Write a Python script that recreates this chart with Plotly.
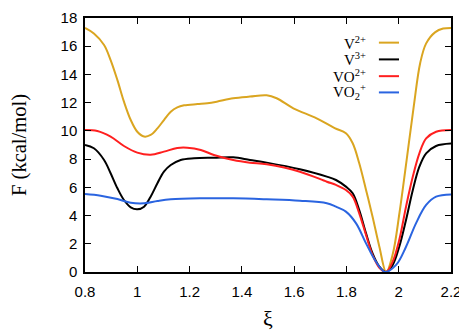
import plotly.graph_objects as go

# --- data ---
xi_v2 = [0.80, 0.834, 0.873, 0.898, 0.924, 0.949, 0.975, 1.000, 1.026, 1.051, 1.077, 1.102,
         1.128, 1.153, 1.179, 1.230, 1.268, 1.304, 1.367, 1.431, 1.495, 1.533, 1.597, 1.686,
         1.755, 1.798, 1.824, 1.849, 1.875, 1.900, 1.926, 1.952, 1.977, 2.003, 2.030, 2.058,
         2.082, 2.105, 2.140, 2.170, 2.20]
F_v2 = [17.3, 16.9, 16.09, 15.02, 13.6, 12.07, 10.77, 9.94, 9.6, 9.71, 10.18, 10.77,
        11.36, 11.67, 11.81, 11.9, 11.96, 12.07, 12.31, 12.43, 12.52, 12.31, 11.6, 10.89,
        10.2, 9.83, 9.12, 7.7, 5.81, 3.92, 1.79, 0.0, 1.25, 4.2, 7.9, 11.8,
        14.8, 16.2, 17.0, 17.25, 17.3]

xi_v3 = [0.80, 0.834, 0.873, 0.898, 0.924, 0.949, 0.975, 1.000, 1.026, 1.051, 1.077, 1.102,
         1.128, 1.166, 1.217, 1.293, 1.367, 1.431, 1.495, 1.622, 1.725, 1.760, 1.798, 1.824,
         1.849, 1.875, 1.900, 1.926, 1.952, 1.977, 2.002, 2.028, 2.054, 2.079, 2.105, 2.143, 2.20]
F_v3 = [9.0, 8.77, 7.94, 7.0, 5.93, 5.1, 4.58, 4.44, 4.63, 5.34, 6.29, 7.11,
        7.58, 7.94, 8.06, 8.1, 8.13, 7.94, 7.75, 7.28, 6.76, 6.52, 6.05, 5.58,
        4.39, 2.74, 1.32, 0.38, 0.0, 0.5, 1.79, 3.69, 5.81, 7.46, 8.41, 8.93, 9.1]

xi_vo2 = [0.80, 0.847, 0.898, 0.949, 1.000, 1.051, 1.102, 1.153, 1.191, 1.243, 1.293, 1.367,
          1.431, 1.495, 1.622, 1.725, 1.760, 1.798, 1.824, 1.849, 1.875, 1.900, 1.926, 1.952,
          1.977, 2.002, 2.028, 2.054, 2.079, 2.105, 2.143, 2.20]
F_vo2 = [10.06, 9.99, 9.59, 8.93, 8.46, 8.31, 8.53, 8.79, 8.81, 8.65, 8.29, 7.94,
         7.75, 7.63, 7.11, 6.4, 6.17, 5.81, 5.34, 4.16, 2.62, 1.2, 0.3, 0.0,
         0.73, 2.27, 4.63, 6.76, 8.41, 9.47, 9.94, 10.06]

xi_vo2p = [0.80, 0.860, 0.924, 0.975, 1.026, 1.077, 1.128, 1.240, 1.367, 1.495, 1.622, 1.725,
           1.760, 1.798, 1.837, 1.875, 1.913, 1.948, 1.990, 2.028, 2.066, 2.105, 2.143, 2.20]
F_vo2p = [5.53, 5.41, 5.17, 4.91, 4.87, 5.03, 5.15, 5.22, 5.22, 5.15, 5.05, 4.87,
          4.63, 4.28, 3.45, 2.03, 0.73, 0.0, 0.5, 1.79, 3.45, 4.75, 5.34, 5.5]

names = ["V<sup>2+</sup>", "V<sup>3+</sup>", "VO<sup>2+</sup>", "VO<sub>2</sub><sup>+</sup>"]
colors = ["#daa520", "#000000", "#ff1f1f", "#2a64e0"]

x_ticks = [0.8, 1.0, 1.2, 1.4, 1.6, 1.8, 2.0, 2.2]
x_tick_labels = ["0.8", "1", "1.2", "1.4", "1.6", "1.8", "2", "2.2"]
y_ticks = [0, 2, 4, 6, 8, 10, 12, 14, 16, 18]

series = [(xi_v2, F_v2), (xi_v3, F_v3), (xi_vo2, F_vo2), (xi_vo2p, F_vo2p)]

fig = go.Figure()
for (xs, ys), nm, c in zip(series, names, colors):
    fig.add_trace(go.Scatter(x=xs, y=ys, mode="lines", name=nm,
                             line=dict(color=c, width=2, shape="spline", smoothing=1.0),
                             showlegend=False))

# legend drawn manually (text on the left, line sample on the right)
leg_y = [0.903, 0.837, 0.771, 0.707]
for nm, c, yy in zip(names, colors, leg_y):
    fig.add_annotation(x=0.773, y=yy, xref="paper", yref="paper", text=nm,
                       showarrow=False, xanchor="right", yanchor="middle",
                       font=dict(family="Liberation Serif", size=15, color="black"))
    fig.add_shape(type="line", xref="paper", yref="paper", x0=0.803, x1=0.858,
                  y0=yy, y1=yy, line=dict(color=c, width=2))

axis_common = dict(showline=True, linecolor="black", linewidth=1.5, mirror="ticks",
                   ticks="inside", ticklen=6, tickwidth=1.2, tickcolor="black",
                   showgrid=False, zeroline=False, automargin=False,
                   ticklabeloverflow="allow",
                   tickfont=dict(family="Liberation Sans", size=15, color="black"))

fig.update_xaxes(range=[0.8, 2.2], tickvals=x_ticks, ticktext=x_tick_labels,
                 ticklabelstandoff=5,
                 title=dict(text="ξ", font=dict(family="Liberation Serif", size=22, color="black"),
                            standoff=27),
                 **axis_common)
fig.update_yaxes(range=[0, 18], tickvals=y_ticks,
                 ticklabelstandoff=3,
                 title=dict(text="F (kcal/mol)", font=dict(family="Liberation Serif", size=20.5, color="black"),
                            standoff=30),
                 **axis_common)

# page body has an 8px margin, so the plot area is offset to compensate
fig.update_layout(width=459, height=323, margin=dict(l=77, r=16, t=10, b=59),
                  plot_bgcolor="white", paper_bgcolor="white")

fig.write_html("out.html")
